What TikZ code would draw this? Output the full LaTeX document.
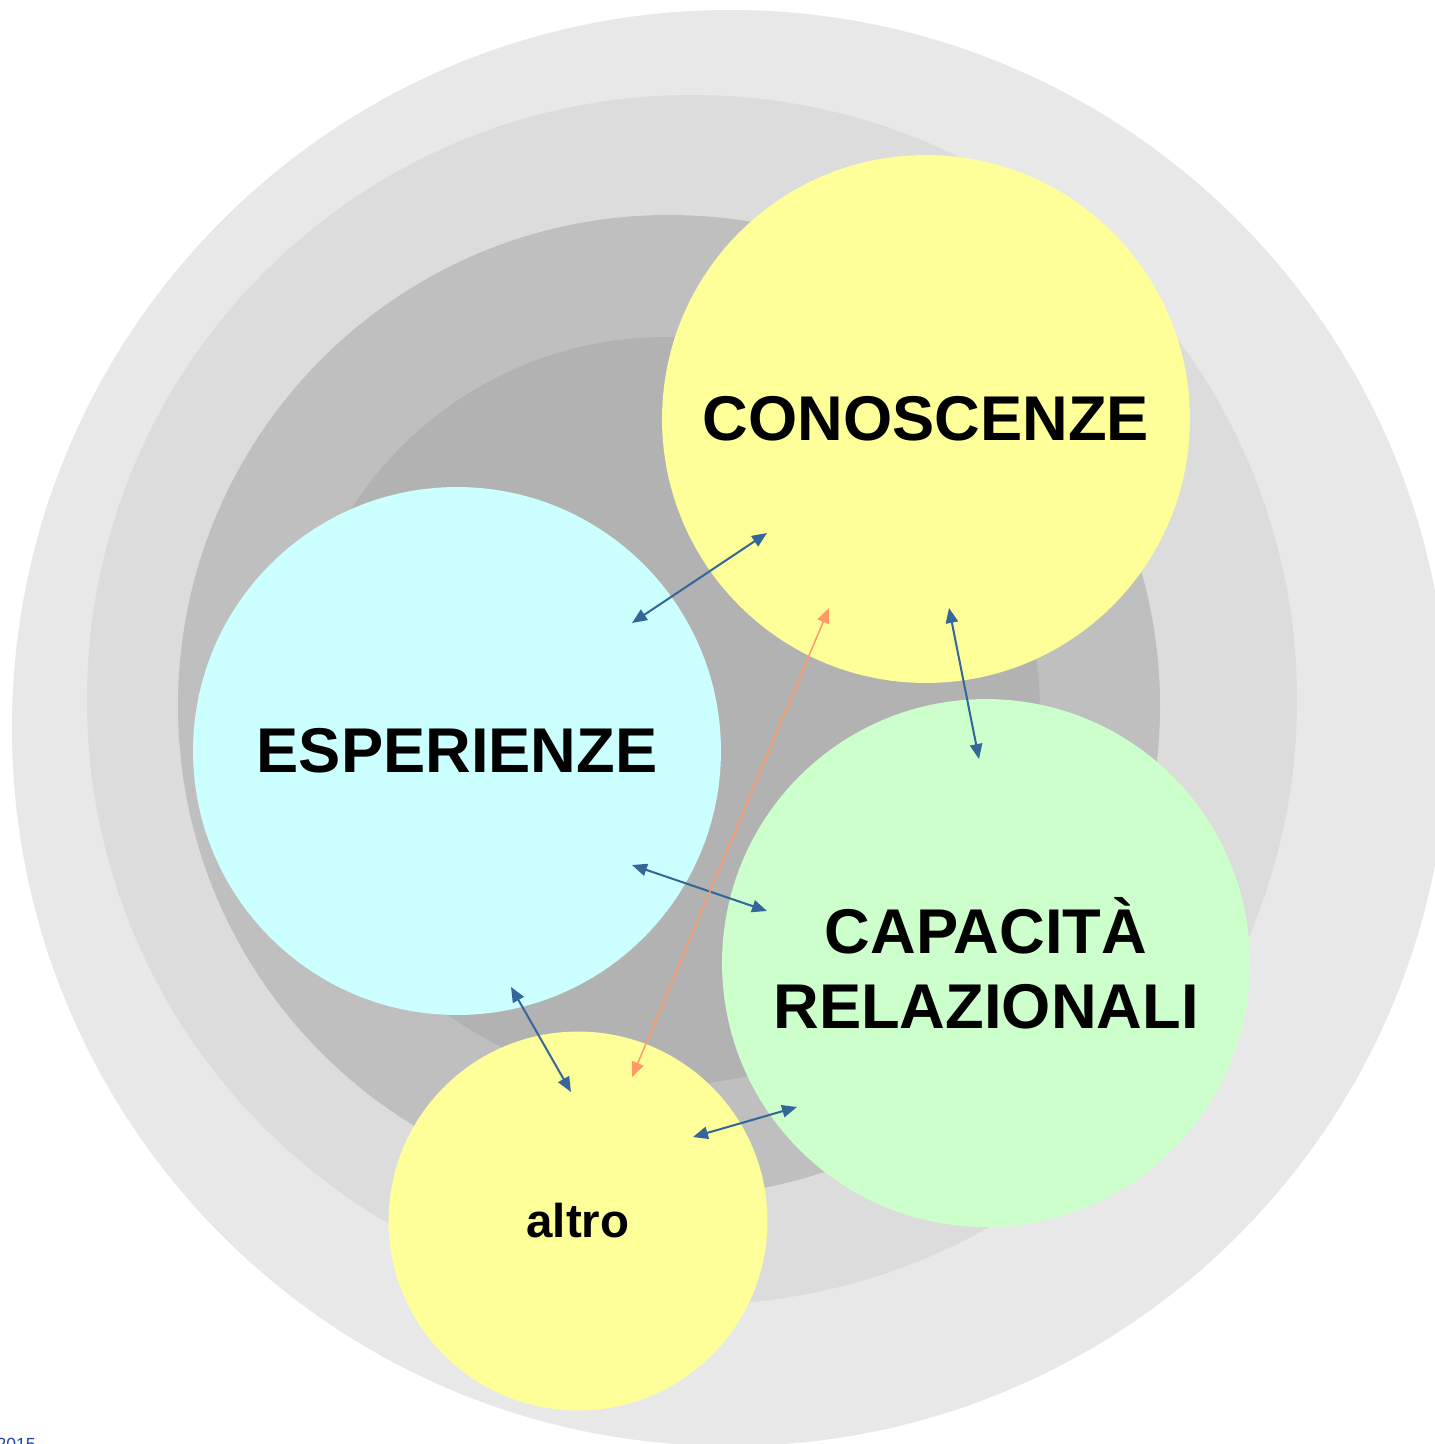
\documentclass[tikz,border=0pt]{standalone}
\usepackage{fontspec}
\setmainfont{Liberation Sans}
\usetikzlibrary{arrows.meta}
\definecolor{ringA}{HTML}{E8E8E8}
\definecolor{ringB}{HTML}{DCDCDC}
\definecolor{ringC}{HTML}{BFBFBF}
\definecolor{ringD}{HTML}{B2B2B2}
\definecolor{softyellow}{HTML}{FFFF99}
\definecolor{softcyan}{HTML}{CCFFFF}
\definecolor{softgreen}{HTML}{CCFFCC}
\definecolor{linkblue}{HTML}{336699}
\definecolor{linkorange}{HTML}{FF9966}
\definecolor{noteblue}{HTML}{2244AA}
\begin{document}
\begin{tikzpicture}[x=0.02cm,y=-0.02cm,
  bubble/.style={circle, inner sep=0pt, align=center, text=black,
    font=\fontsize{36}{42.5}\selectfont\bfseries},
  link/.style={draw=linkblue, line width=1.15pt,
    {Triangle[length=8.5pt,width=7pt]}-{Triangle[length=8.5pt,width=7pt]}},
  crosslink/.style={draw=linkorange, line width=0.85pt,
    {Triangle[length=8.5pt,width=7pt]}-{Triangle[length=8.5pt,width=7pt]}}]
\useasboundingbox (0,0) rectangle (1434,1444);
\fill[white] (0,0) rectangle (1434,1444);
% concentric grey background
\fill[ringA] (730,728) circle[radius=718];
\fill[ringB] (692,700) circle[radius=605];
\fill[ringC] (669,706) circle[radius=491];
\fill[ringD] (666,711) circle[radius=374];
% the four areas
\node[bubble, fill=softyellow, minimum size=10.56cm] (kn) at (926,419) {CONOSCENZE};
\node[bubble, fill=softcyan, minimum size=10.56cm] (esp) at (457,751) {ESPERIENZE};
\node[bubble, fill=softgreen, minimum size=10.56cm] (cap) at (986,963) {CAPACITÀ\\RELAZIONALI};
\node[bubble, fill=softyellow, minimum size=7.58cm,
  font=\fontsize{27}{32}\selectfont\bfseries] (alt) at (578,1221) {altro};
% link end points
\coordinate (ke) at (767,533);
\coordinate (ek) at (632,623);
\coordinate (kc) at (949,608);
\coordinate (ck) at (979,759);
\coordinate (ec) at (632,865);
\coordinate (ce) at (767,911);
\coordinate (ea) at (511,987);
\coordinate (ae) at (571,1092);
\coordinate (ac) at (693,1137);
\coordinate (ca) at (797,1107);
\coordinate (ka) at (829,608);
\coordinate (ak) at (632,1077);
% links
\draw[link] (ek) -- (ke);
\draw[link] (kc) -- (ck);
\draw[link] (ec) -- (ce);
\draw[link] (ea) -- (ae);
\draw[link] (ac) -- (ca);
\draw[crosslink] (ka) -- (ak);
% footer
\node[anchor=base east, inner sep=0pt, text=noteblue,
  font=\fontsize{10}{12}\selectfont] (yr) at (36,1450) {2015};
\end{tikzpicture}
\end{document}
